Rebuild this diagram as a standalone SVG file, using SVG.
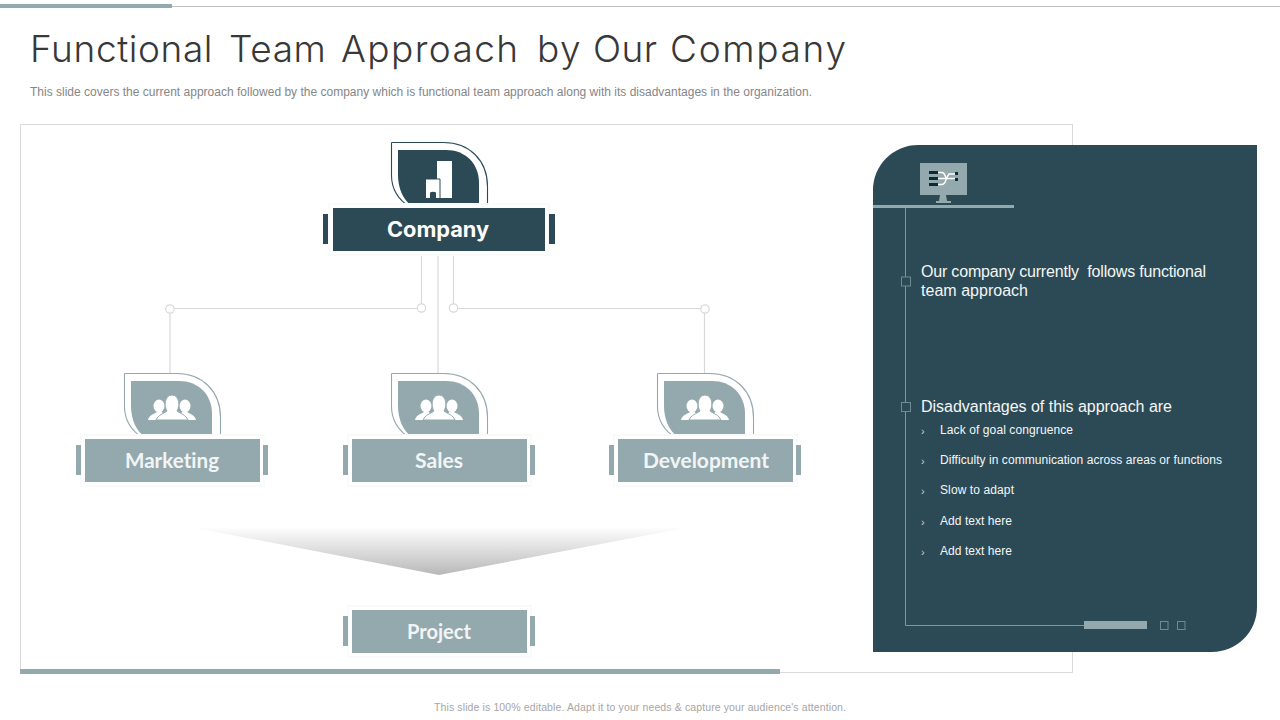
<svg xmlns="http://www.w3.org/2000/svg" width="1280" height="720" viewBox="0 0 1280 720">
<style>
text{font-family:"Liberation Sans",Arial,sans-serif}
.title{font-family:"Inter","Liberation Sans",sans-serif;font-weight:300;font-size:37px;fill:#383838}
.sub{font-size:12px;fill:#868686}
.foot{font-size:10.5px;fill:#a6a6a6}
.lab{font-family:"Inter","Liberation Sans",sans-serif;font-weight:700;font-size:21px;fill:#fff;text-anchor:middle}
.lt{font-family:"Lato","Liberation Sans",sans-serif;font-variant-ligatures:none;fill:#f2f5f6}
.p1{font-size:16px;fill:#f4f6f7}
.p2{font-size:12px;fill:#f4f6f7}
.chev{font-size:11px;fill:#c9d3d6}
.con{fill:none;stroke:#d9d9d9;stroke-width:1.2}
.dot{fill:#fff;stroke:#d9d9d9;stroke-width:1.2}
.sq{fill:none;stroke:#6f8a92;stroke-width:1}
.bul{fill:#2c4a55;stroke:#6f8a92;stroke-width:1}
.dark{fill:#2c4a55}
.lite{fill:#94a9ae}
.halo{fill:#fff;stroke:#f9fafa;stroke-width:2}
</style>
<defs>
<linearGradient id="fade" x1="0" y1="0" x2="0" y2="1"><stop offset="0" stop-color="#fff"/><stop offset="1" stop-color="#b8b8b8"/></linearGradient>
<path id="leafO" d="M0 0H52C78 0 96 18 96 44V65M19 65C8 58 0 47 0 33V0" fill="none" stroke-width="1.1"/>
<path id="leafI" d="M7 8H55C74 8 88 21 88 41V64H21C12 58 7 46 7 33Z"/>
<g id="people" fill="#fff">
<ellipse cx="11" cy="11" rx="5.500" ry="6.500"/><ellipse cx="37" cy="11" rx="5.500" ry="6.500"/>
<path d="M0 25C1 20 6 19 9 17H14L18 25Z"/><path d="M48 25C47 20 42 19 39 17H34L30 25Z"/>
<path d="M8 25C10 20 15 19 19 16C16 12 16 0 24 0C32 0 32 12 29 16C33 19 38 20 40 25Z" stroke="#94a9ae" stroke-width="1"/>
</g>
</defs>
<rect width="1280" height="720" fill="#fff"/>
<g id="topbar"><rect x="0" y="6" width="1280" height="1" fill="#bfbfbf"/><rect class="lite" x="0" y="4" width="172" height="4"/></g>
<text class="title" y="62"><tspan x="30" letter-spacing="0.6">Functional</tspan> <tspan x="229" letter-spacing="0.6">Team</tspan> <tspan x="341" letter-spacing="1.4">Approach</tspan> <tspan x="537" letter-spacing="1.5">by</tspan> <tspan x="593" letter-spacing="0.5">Our</tspan> <tspan x="670" letter-spacing="1.7">Company</tspan></text>
<text class="sub" x="30" y="96" textLength="782">This slide covers the current approach followed by the company which is functional team approach along with its disadvantages in the organization.</text>
<g id="frame"><rect x="20.500" y="124.500" width="1052" height="548" fill="#fff" stroke="#d9d9d9"/><rect class="lite" x="20" y="669" width="760" height="5"/></g>
<g id="connectors">
<path class="con" d="M421.500 253V304M453.500 253V304M438 253V373M174 308.500H417.500M457.500 308.500H701M170 313V373M704.500 313V373"/>
<circle class="dot" cx="170" cy="309" r="4.200"/><circle class="dot" cx="421.500" cy="308" r="4.200"/><circle class="dot" cx="453.500" cy="308" r="4.200"/><circle class="dot" cx="705" cy="309" r="4.200"/>
</g>
<g id="node-company">
<use href="#leafO" x="391.500" y="142.500" stroke="#2c4a55"/><use href="#leafI" x="391" y="142" class="dark"/>
<path fill="#fff" d="M437 161H452V198H437Z"/>
<path fill="#fff" stroke="#2c4a55" stroke-width="1" d="M425.500 198.500V179H440V198.500Z"/>
<path fill="#2c4a55" d="M430 198V192.500Q433 191 436 192.500V198Z"/>
<rect class="halo" x="329" y="204" width="220" height="51"/><rect class="dark" x="333" y="208" width="212" height="43"/>
<rect class="dark" x="323" y="214" width="5" height="30"/><rect class="dark" x="549" y="214" width="6" height="30"/>
<text class="lab" x="438" y="237" textLength="102" lengthAdjust="spacingAndGlyphs">Company</text>
</g>
<g id="node-marketing">
<use href="#leafO" x="124.500" y="373.500" stroke="#94a9ae"/><use href="#leafI" x="124" y="373" class="lite"/>
<use href="#people" x="148" y="395"/>
<rect class="halo" x="81" y="435" width="183" height="51"/><rect class="lite" x="85" y="439" width="175" height="43"/>
<rect class="lite" x="76" y="445" width="5" height="30"/><rect class="lite" x="263" y="445" width="5" height="30"/>
<text class="lab lt" x="172" y="468" textLength="94" lengthAdjust="spacingAndGlyphs">Marketing</text>
</g>
<g id="node-sales">
<use href="#leafO" x="391.500" y="373.500" stroke="#94a9ae"/><use href="#leafI" x="391" y="373" class="lite"/>
<use href="#people" x="415" y="395"/>
<rect class="halo" x="348" y="435" width="183" height="51"/><rect class="lite" x="352" y="439" width="175" height="43"/>
<rect class="lite" x="343" y="445" width="5" height="30"/><rect class="lite" x="530" y="445" width="5" height="30"/>
<text class="lab lt" x="439" y="468" textLength="48" lengthAdjust="spacingAndGlyphs">Sales</text>
</g>
<g id="node-development">
<use href="#leafO" x="657.500" y="373.500" stroke="#94a9ae"/><use href="#leafI" x="657" y="373" class="lite"/>
<use href="#people" x="681" y="395"/>
<rect class="halo" x="614" y="435" width="183" height="51"/><rect class="lite" x="618" y="439" width="175" height="43"/>
<rect class="lite" x="609" y="445" width="5" height="30"/><rect class="lite" x="796" y="445" width="5" height="30"/>
<text class="lab lt" x="706" y="468" textLength="126" lengthAdjust="spacingAndGlyphs">Development</text>
</g>
<path id="funnel" d="M190 527H690L439 575Z" fill="url(#fade)"/>
<g id="node-project">
<rect class="halo" x="348" y="606" width="183" height="51"/><rect class="lite" x="352" y="610" width="175" height="43"/>
<rect class="lite" x="343" y="616" width="5" height="30"/><rect class="lite" x="530" y="616" width="5" height="30"/>
<text class="lab lt" x="439" y="639" textLength="64" lengthAdjust="spacingAndGlyphs">Project</text>
</g>
<g id="panel">
<path class="dark" d="M918 145H1257V607A45 45 0 0 1 1212 652H873V190A45 45 0 0 1 918 145Z"/>
<rect class="lite" x="873" y="205" width="141" height="3"/>
<path fill="none" stroke="#7f98a0" d="M905.500 208V625.500H1084"/>
<rect class="lite" x="1084" y="621" width="63" height="8"/>
<rect class="sq" x="1160.500" y="621.500" width="7.500" height="8"/><rect class="sq" x="1177.500" y="621.500" width="7.500" height="8"/>
<rect class="bul" x="901.500" y="277" width="9" height="9"/><rect class="bul" x="901.500" y="402.500" width="9" height="9"/>
<g id="monitor">
<rect class="lite" x="920" y="163" width="47" height="32"/>
<path class="lite" d="M940 195H946L947 201H951V203H936V201H939Z"/>
<path fill="#0f2a36" d="M929 171H938V174H929ZM929 177H938V180H929ZM929 183H938V186H929ZM955 172H958V175H955ZM955 178H958V181H955Z"/>
<path fill="none" stroke="#fff" stroke-width="1.400" d="M938 172.500H942C946 172.500 944 178.500 948 178.500H955M938 178.500H948M938 184.500H942C946 184.500 945 179 949 174H955"/>
</g>
<text class="p1" x="921" y="277" xml:space="preserve" textLength="285">Our company currently  follows functional</text>
<text class="p1" x="921" y="296" textLength="107">team approach</text>
<text class="p1" x="921" y="412" textLength="251">Disadvantages of this approach are</text>
<text class="chev" x="921" y="435">›</text><text class="p2" x="940" y="434" textLength="133">Lack of goal congruence</text>
<text class="chev" x="921" y="465">›</text><text class="p2" x="940" y="464" textLength="282">Difficulty in communication across areas or functions</text>
<text class="chev" x="921" y="495">›</text><text class="p2" x="940" y="494" textLength="74">Slow to adapt</text>
<text class="chev" x="921" y="526">›</text><text class="p2" x="940" y="525" textLength="72">Add text here</text>
<text class="chev" x="921" y="556">›</text><text class="p2" x="940" y="555" textLength="72">Add text here</text>
</g>
<text class="foot" x="434" y="711" textLength="412">This slide is 100% editable.  Adapt it to your needs &amp; capture your audience's attention.</text>
</svg>
